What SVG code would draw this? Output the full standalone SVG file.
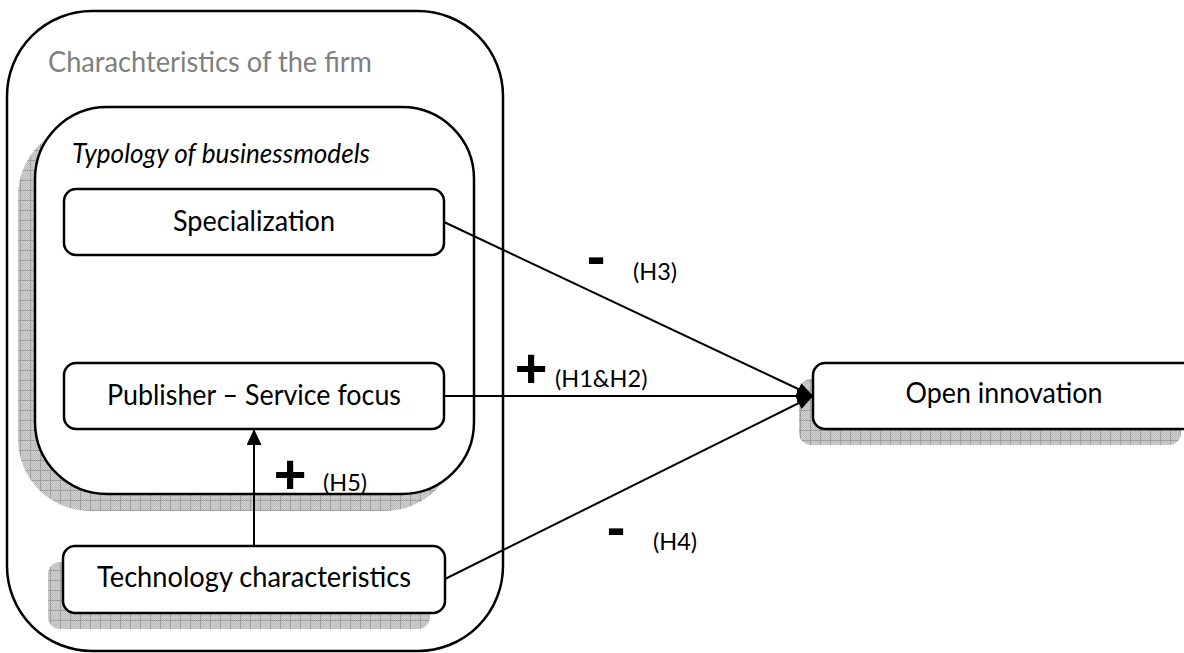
<svg xmlns="http://www.w3.org/2000/svg" width="1184" height="653" viewBox="0 0 1184 653">
  <style>
    .box { fill: #ffffff; stroke: #000000; stroke-width: 2.5; }
    .frame { fill: none; stroke: #000000; stroke-width: 2.5; }
    .shadow { fill: url(#shadowGrid); stroke: none; }
    .link { fill: none; stroke: #000000; stroke-width: 2; }
    .txt { font-family: Lato, "Open Sans", "Liberation Sans", sans-serif; font-size: 28.5px; fill: #000000; }
    .title { fill: #7f7f7f; }
    .ital { font-style: italic; font-size: 27px; }
    .hyp { font-family: Lato, "Open Sans", "Liberation Sans", sans-serif; font-size: 23.5px; fill: #000000; }
    .sign { font-family: "Liberation Sans", Arial, sans-serif; font-weight: bold; font-size: 56px; fill: #000000; text-anchor: middle; }
  </style>
  <defs>
    <!-- fine checker used as the base of the shadow texture -->
    <pattern id="fineChecker" width="2" height="2" patternUnits="userSpaceOnUse">
      <rect width="2" height="2" fill="#d0d0d0"/>
      <rect width="1" height="1" fill="#bcbcbc"/>
      <rect x="1" y="1" width="1" height="1" fill="#bcbcbc"/>
    </pattern>
    <!-- checker with a 10px grid on top, used for drop shadows -->
    <pattern id="shadowGrid" width="10" height="10" patternUnits="userSpaceOnUse">
      <rect width="10" height="10" fill="url(#fineChecker)"/>
      <path d="M0,0.5H10M0.5,0V10" stroke="#a0a0a0" stroke-width="1"/>
    </pattern>
    <marker id="headRight" markerUnits="userSpaceOnUse" markerWidth="16" markerHeight="13" refX="16" refY="6.5" orient="auto">
      <path d="M0,0 L16,6.5 L0,13 z" fill="#000000"/>
    </marker>
    <marker id="headUp" markerUnits="userSpaceOnUse" markerWidth="16" markerHeight="15" refX="16" refY="7.5" orient="auto">
      <path d="M0,0 L16,7.5 L0,15 z" fill="#000000"/>
    </marker>
  </defs>

  <!-- firm container -->
  <g id="firm">
    <rect class="frame" x="7" y="11" width="496" height="640" rx="85" ry="85"/>
    <text class="txt title" x="48" y="72" textLength="324" lengthAdjust="spacingAndGlyphs">Charachteristics of the firm</text>
  </g>

  <!-- business model typology container -->
  <g id="typology">
    <rect class="shadow" x="18" y="124" width="439" height="387" rx="72" ry="72"/>
    <rect class="box" x="35" y="107" width="439" height="387" rx="72" ry="72"/>
    <text class="txt ital" x="72" y="163" textLength="298" lengthAdjust="spacingAndGlyphs">Typology of businessmodels</text>
  </g>

  <g id="specialization">
    <rect class="box" x="64" y="189" width="380" height="66" rx="12" ry="12"/>
    <text class="txt" x="254" y="231" text-anchor="middle" textLength="162" lengthAdjust="spacingAndGlyphs">Specialization</text>
  </g>

  <g id="publisher">
    <rect class="box" x="64" y="363" width="380" height="66" rx="12" ry="12"/>
    <text class="txt" x="254" y="405" text-anchor="middle" textLength="294" lengthAdjust="spacingAndGlyphs">Publisher – Service focus</text>
  </g>

  <g id="technology">
    <rect class="shadow" x="48" y="562" width="382" height="67" rx="12" ry="12"/>
    <rect class="box" x="63" y="546" width="382" height="67" rx="12" ry="12"/>
    <text class="txt" x="254" y="587" text-anchor="middle" textLength="314" lengthAdjust="spacingAndGlyphs">Technology characteristics</text>
  </g>

  <g id="open-innovation">
    <rect class="shadow" x="799" y="379" width="382" height="66" rx="12" ry="12"/>
    <rect class="box" x="813" y="363" width="382" height="66" rx="12" ry="12"/>
    <text class="txt" x="1004" y="403" text-anchor="middle" textLength="197" lengthAdjust="spacingAndGlyphs">Open innovation</text>
  </g>

  <!-- relations -->
  <g id="connectors">
    <line class="link" x1="444" y1="222" x2="813" y2="396" marker-end="url(#headRight)"/>
    <line class="link" x1="444" y1="396" x2="813" y2="396" marker-end="url(#headRight)"/>
    <line class="link" x1="445" y1="579" x2="813" y2="396" marker-end="url(#headRight)"/>
    <line class="link" x1="254" y1="546" x2="254" y2="429" marker-end="url(#headUp)"/>
  </g>

  <!-- hypothesis labels -->
  <g id="labels">
    <text class="sign" x="596" y="275">-</text>
    <text class="hyp" x="633" y="280">(H3)</text>
    <text class="sign" x="531" y="387">+</text>
    <text class="hyp" x="555" y="387">(H1&amp;H2)</text>
    <text class="sign" x="290" y="493">+</text>
    <text class="hyp" x="323" y="491">(H5)</text>
    <text class="sign" x="616" y="546">-</text>
    <text class="hyp" x="653" y="550">(H4)</text>
  </g>
</svg>
